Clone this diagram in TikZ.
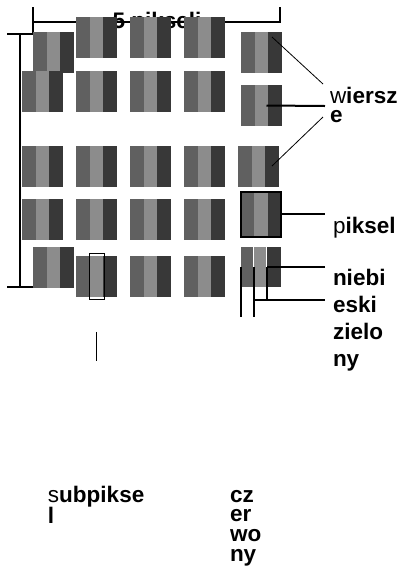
\documentclass[tikz,border=0pt]{standalone}
\usepackage{fontspec}
\setmainfont{Liberation Sans}
\usetikzlibrary{calc}

\definecolor{subR}{HTML}{606060}
\definecolor{subG}{HTML}{8C8C8C}
\definecolor{subB}{HTML}{383838}

\tikzset{
  pixel/.style={rectangle, anchor=north west, inner sep=0pt, outer sep=0pt,
    minimum width=41pt, minimum height=41pt,
    path picture={
      \fill[subG] (path picture bounding box.south west) rectangle (path picture bounding box.north east);
      \fill[subR] (path picture bounding box.south west) rectangle
        ($(path picture bounding box.north west)!1/3!(path picture bounding box.north east)$);
      \fill[subB] ($(path picture bounding box.south west)!2/3!(path picture bounding box.south east)$)
        rectangle (path picture bounding box.north east);
    }},
  subpix/.style={rectangle, anchor=north west, inner sep=0pt, outer sep=0pt,
    minimum height=40pt, fill=#1},
  tag/.style={anchor=base west, inner sep=0pt, outer sep=0pt,
    font=\fontsize{22.5}{19.7}\selectfont\bfseries},
  widetag/.style={tag, font=\fontsize{22.5}{27}\selectfont\bfseries},
  bracket/.style={line width=2pt},
  lead/.style={line width=2pt},
  vlead/.style={line width=1.6pt},
  thinlead/.style={line width=0.8pt},
}

\begin{document}
\begin{tikzpicture}[x=1pt, y=-1pt]
\useasboundingbox (0,0) rectangle (402,566);

% dimension brackets
\draw[bracket] (7,34) -- (33,34) (20,34) -- (20,287) (7,287) -- (33,287);
\draw[bracket] (33,7) -- (33,33) (33,22) -- (280,22) (280,7) -- (280,23);
\node[anchor=base, inner sep=0pt, font=\fontsize{22.5}{19.7}\selectfont\bfseries] (width) at (157,28) {5 pikseli};

% pixel grid
\node[pixel] (p11) at (33,32) {};
\node[pixel] (p12) at (76,17) {};
\node[pixel] (p13) at (130,17) {};
\node[pixel] (p14) at (184,17) {};
\node[pixel] (p15) at (241,32) {};

\node[pixel] (p21) at (22,71) {};
\node[pixel] (p22) at (76,71) {};
\node[pixel] (p23) at (130,71) {};
\node[pixel] (p24) at (184,71) {};
\node[pixel] (p25) at (241,85) {};

\node[pixel] (p31) at (22,146) {};
\node[pixel] (p32) at (76,146) {};
\node[pixel] (p33) at (130,146) {};
\node[pixel] (p34) at (184,146) {};
\node[pixel] (p35) at (238,146) {};

\node[pixel] (p41) at (22,199) {};
\node[pixel] (p42) at (76,199) {};
\node[pixel] (p43) at (130,199) {};
\node[pixel] (p44) at (184,199) {};
\node[pixel, minimum width=40pt, minimum height=45pt, draw=black, line width=2pt] (p45) at (241,191.5) {};

\node[pixel] (p51) at (33,247) {};
\node[pixel] (p52) at (76,256) {};
\node[pixel] (p53) at (130,256) {};
\node[pixel] (p54) at (184,256) {};

% one pixel split into its subpixels
\node[subpix=subR, minimum width=12pt] (sr) at (241,247) {};
\node[subpix=subG, minimum width=12pt] (sg) at (254,247) {};
\node[subpix=subB, minimum width=14pt] (sb) at (267,247) {};

% a single subpixel outlined
\node[rectangle, anchor=north west, inner sep=0pt, minimum width=15pt, minimum height=46pt,
      draw=black, line width=0.9pt] (sub) at (89,253) {};

% labels (each anchored at the baseline of its first line)
\node[tag] (wiersze) at (330,103) {\vtop{\hbox{{\mdseries w}iersz}\hbox{e}}};
\node[tag] (piksel) at (333,233) {{\mdseries p}iksel};
\node[widetag] (niebieski) at (333,285) {\vtop{\hbox{niebi}\hbox{eski}}};
\node[widetag] (zielony) at (333,339) {\vtop{\hbox{zielo}\hbox{ny}}};
\node[tag] (subpiksel) at (48,502) {\vtop{\hbox{{\mdseries s}ubpikse}\hbox{l}}};
\node[tag] (czerwony) at (230,502) {\vtop{\hbox{cz}\hbox{er}\hbox{wo}\hbox{ny}}};

% leader end points
\coordinate (wA) at (323,84);
\coordinate (wB) at (325,106);
\coordinate (wC) at (323,117);
\coordinate (pk) at (325,214);
\coordinate (nb) at (325,267);
\coordinate (zl) at (325,300);

% leaders
\draw[thinlead] ($(p15.north east)+(-10,5)$) -- (wA);
\draw[lead] ($(p25.center)+(5,0)$) -- (wB);
\draw[thinlead] ($(p35.south east)+(-7,-21)$) -- (wC);
\draw[lead] (p45.east) -- (pk);
\draw[lead] (nb) -- (sb.west);
\draw[vlead] (sb.west) -- ++(0,33);
\draw[vlead] (sg.west) -- ++(0,50);
\draw[lead] ($(sg.west)+(0,33)$) -- (zl);
\draw[vlead] (sr.west) -- ++(0,50);
\draw[line width=1pt] ($(sub.south)+(0,32)$) -- ++(0,29);
\end{tikzpicture}
\end{document}
